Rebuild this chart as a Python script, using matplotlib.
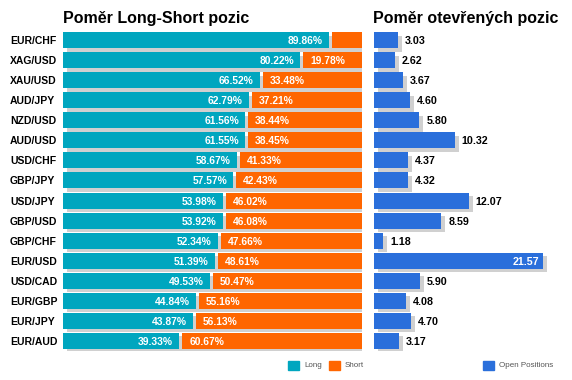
import matplotlib
matplotlib.use("Agg")
import matplotlib.pyplot as plt
from matplotlib.patches import Rectangle
from matplotlib.transforms import ScaledTranslation, blended_transform_factory

pairs = ["EUR/CHF", "XAG/USD", "XAU/USD", "AUD/JPY", "NZD/USD", "AUD/USD", "USD/CHF", "GBP/JPY",
         "USD/JPY", "GBP/USD", "GBP/CHF", "EUR/USD", "USD/CAD", "EUR/GBP", "EUR/JPY", "EUR/AUD"]
long_pct = [89.86, 80.22, 66.52, 62.79, 61.56, 61.55, 58.67, 57.57,
            53.98, 53.92, 52.34, 51.39, 49.53, 44.84, 43.87, 39.33]
short_pct = [10.14, 19.78, 33.48, 37.21, 38.44, 38.45, 41.33, 42.43,
             46.02, 46.08, 47.66, 48.61, 50.47, 55.16, 56.13, 60.67]
open_pos = [3.03, 2.62, 3.67, 4.60, 5.80, 10.32, 4.37, 4.32,
            12.07, 8.59, 1.18, 21.57, 5.90, 4.08, 4.70, 3.17]

C_LONG, C_SHORT, C_OPEN, C_SHADOW = "#00A6BF", "#FF6600", "#2A6FDB", "#D0D0D0"
plt.rcParams["font.family"] = ["Liberation Sans", "DejaVu Sans"]

W, H = 572, 380
fig = plt.figure(figsize=(W / 100, H / 100), dpi=100)
bot, hgt = 1 - 351 / H, 321 / H
a1 = fig.add_axes([63 / W, bot, 299 / W, hgt])
a2 = fig.add_axes([374 / W, bot, 186 / W, hgt])
GAP = 1.0
ys = list(range(len(pairs)))
shift = ScaledTranslation(4 / 100, -3.5 / 100, fig.dpi_scale_trans)

# left panel: long/short split
tot = [l + s + GAP for l, s in zip(long_pct, short_pct)]
a1.barh(ys, tot, height=0.8, color=C_SHADOW, transform=a1.transData + shift, zorder=1)
a1.barh(ys, long_pct, height=0.8, color=C_LONG, zorder=2)
a1.barh(ys, short_pct, left=[l + GAP for l in long_pct], height=0.8, color=C_SHORT, zorder=2)
for y, l, s in zip(ys, long_pct, short_pct):
    a1.annotate(f"{l:.2f}%", (l, y), xytext=(-4.5, 0), textcoords="offset points", ha="right",
                va="center_baseline", color="white", fontsize=7.4, fontweight="bold", zorder=3)
    if s > 15:
        a1.annotate(f"{s:.2f}%", (l + GAP, y), xytext=(5, 0), textcoords="offset points", ha="left",
                    va="center_baseline", color="white", fontsize=7.4, fontweight="bold", zorder=3)
a1.set_xlim(0, 100 + GAP)
a1.set_ylim(len(pairs) - 0.5, -0.5)
lbl_tr = blended_transform_factory(fig.transFigure, a1.transData)
for y, p in zip(ys, pairs):
    a1.text(10 / W, y, p, transform=lbl_tr, ha="left", va="center_baseline",
            fontsize=7.5, fontweight="bold", color="black")

# right panel: open positions
a2.barh(ys, open_pos, height=0.8, color=C_SHADOW, transform=a2.transData + shift, zorder=1)
a2.barh(ys, open_pos, height=0.8, color=C_OPEN, zorder=2)
vmax = max(open_pos)
for y, v in zip(ys, open_pos):
    if v == vmax:
        a2.annotate(f"{v:.2f}", (v, y), xytext=(-3, 0), textcoords="offset points", ha="right",
                    va="center_baseline", color="white", fontsize=7.7, fontweight="bold", zorder=3)
    else:
        a2.annotate(f"{v:.2f}", (v, y), xytext=(5, 0), textcoords="offset points", ha="left",
                    va="center_baseline", color="black", fontsize=7.7, fontweight="bold", zorder=3)
a2.set_xlim(0, 186 / 7.84)
a2.set_ylim(len(pairs) - 0.5, -0.5)

for ax in (a1, a2):
    ax.axis("off")

fig.text(63 / W, 1 - 23 / H, "Poměr Long-Short pozic", fontsize=11.5, fontweight="bold", ha="left", va="baseline")
fig.text(373 / W, 1 - 23 / H, "Poměr otevřených pozic", fontsize=11.5, fontweight="bold", ha="left", va="baseline")

# legends
for x0, c, t in [(288, C_LONG, "Long"), (329, C_SHORT, "Short"), (483, C_OPEN, "Open Positions")]:
    fig.patches.append(Rectangle((x0 / W, 1 - 370 / H), 11 / W, 9 / H, transform=fig.transFigure,
                                 color=c, figure=fig))
    fig.text((x0 + 16) / W, 1 - 365.5 / H, t, fontsize=5.8, color="#555555", ha="left", va="center")

fig.savefig("out.png", dpi=100)
